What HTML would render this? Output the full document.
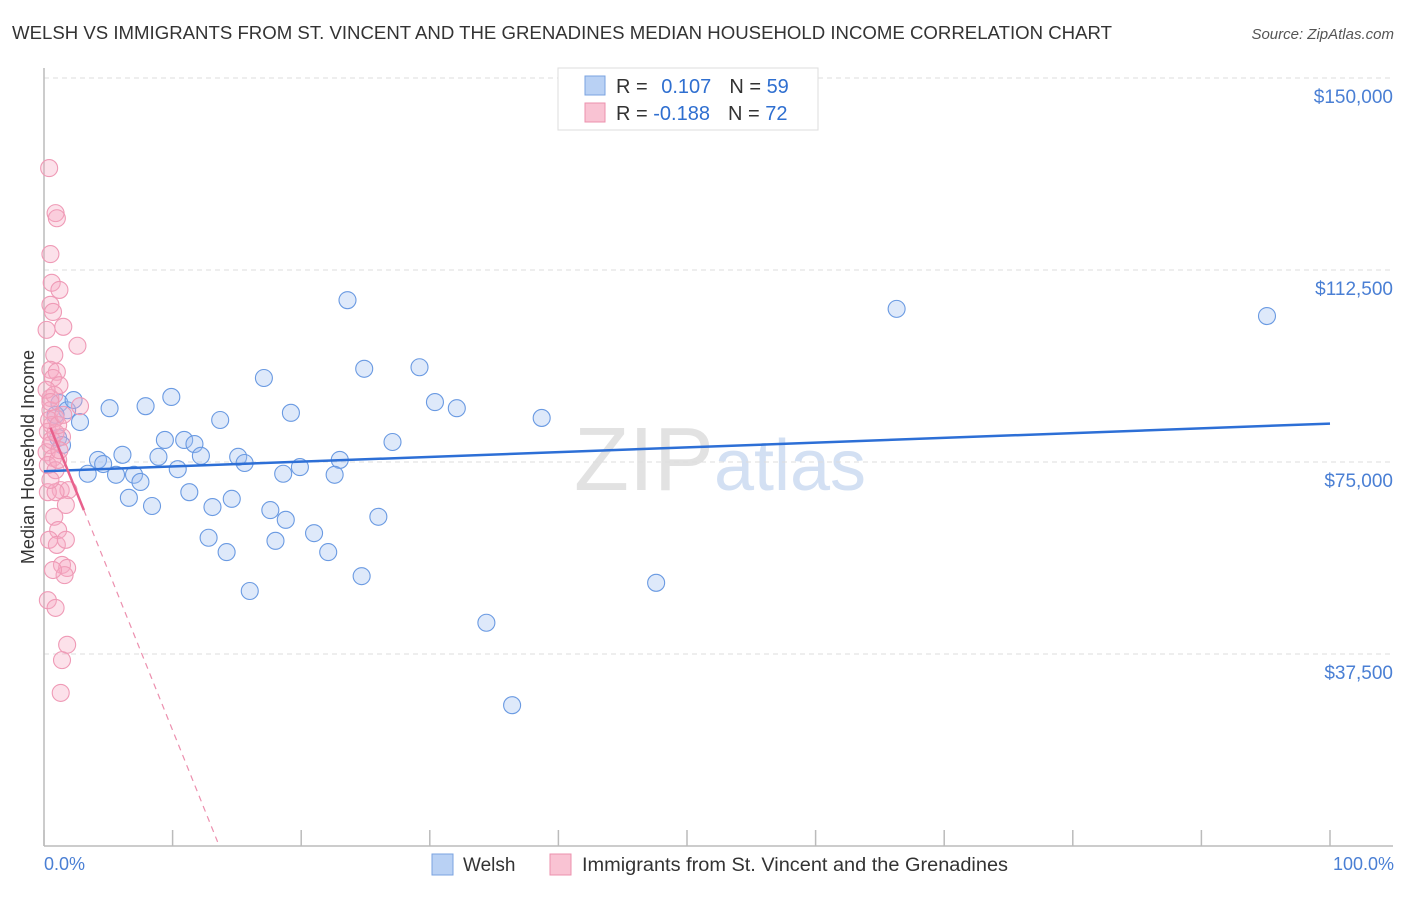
<!DOCTYPE html>
<html><head><meta charset="utf-8"><style>
body{margin:0;background:#fff;font-family:"Liberation Sans",sans-serif;}
svg text{font-family:"Liberation Sans",sans-serif;}
</style></head><body>
<svg id="chart" width="1406" height="892" xmlns="http://www.w3.org/2000/svg">
<text x="12" y="39" font-size="18" fill="#333" textLength="1100" lengthAdjust="spacingAndGlyphs">WELSH VS IMMIGRANTS FROM ST. VINCENT AND THE GRENADINES MEDIAN HOUSEHOLD INCOME CORRELATION CHART</text>
<text x="1394" y="39" font-size="15" fill="#555" text-anchor="end" font-style="italic">Source: ZipAtlas.com</text>
<text x="720" y="490" font-size="90" fill="#e2e2e2" text-anchor="middle" font-family="Liberation Serif">ZIP<tspan fill="#d3e0f3" font-family="Liberation Sans" font-size="72">atlas</tspan></text>
<g id="grid"></g><g id="axes"></g><g id="pts"></g><g id="trend"></g>
<text transform="translate(34,457) rotate(-90)" font-size="18" fill="#333" text-anchor="middle">Median Household Income</text>
<text x="44" y="870" font-size="18" fill="#4a7fd4">0.0%</text>
<text x="1394" y="870" font-size="18" fill="#4a7fd4" text-anchor="end">100.0%</text>
<g>
<rect x="558" y="68" width="260" height="62" fill="#fff" stroke="#ddd"/>
<rect x="585" y="76" width="20" height="19" fill="#b9d1f4" stroke="#7aa3e0"/>
<rect x="585" y="103" width="20" height="19" fill="#f9c3d3" stroke="#ec90ae"/>
<text x="616" y="93" font-size="20" fill="#333">R = <tspan fill="#2f6fd0" dx="8">0.107</tspan><tspan dx="18" fill="#333">N = </tspan><tspan fill="#2f6fd0">59</tspan></text>
<text x="616" y="120" font-size="20" fill="#333">R = <tspan fill="#2f6fd0">-0.188</tspan><tspan dx="18" fill="#333">N = </tspan><tspan fill="#2f6fd0">72</tspan></text>
</g>
<g>
<rect x="432" y="854" width="21" height="21" fill="#b9d1f4" stroke="#7aa3e0"/>
<text x="463" y="871" font-size="19" fill="#333">Welsh</text>
<rect x="550" y="854" width="21" height="21" fill="#f9c3d3" stroke="#ec90ae"/>
<text x="582" y="871" font-size="19" fill="#333" textLength="426" lengthAdjust="spacingAndGlyphs">Immigrants from St. Vincent and the Grenadines</text>
</g>
</svg>
<script>
const yTicks=[37500,75000,112500,150000];
const yTickLabels=["$37,500","$75,000","$112,500","$150,000"];
const welshX=[1.2,1.8,2.3,2.8,1.1,5.1,7.9,9.9,4.2,3.4,4.6,6.1,5.6,7.0,7.5,8.9,9.4,10.4,10.9,11.7,12.2,11.3,6.6,8.4,13.7,15.1,15.6,13.1,14.6,12.8,14.2,16.0,17.1,19.2,18.6,19.9,17.6,18.8,18.0,21.0,22.1,23.6,24.9,23.0,22.6,26.0,24.7,27.1,29.2,30.4,32.1,38.7,34.4,36.4,47.6,66.3,95.1,0.9,1.4];
const welshY=[86.5,85.1,87.1,82.8,79.7,85.5,85.9,87.7,75.4,72.7,74.6,76.4,72.5,72.5,71.1,76.0,79.3,73.6,79.3,78.5,76.2,69.1,68.0,66.4,83.2,76.0,74.8,66.2,67.8,60.2,57.4,49.8,91.4,84.6,72.7,74.0,65.6,63.7,59.6,61.1,57.4,106.6,93.2,75.4,72.5,64.3,52.7,78.9,93.5,86.7,85.5,83.6,43.6,27.5,51.4,104.9,103.5,84.2,78.3];
const immX=[0.4,0.9,1.0,0.5,0.6,1.2,0.5,0.7,0.2,1.5,2.6,0.8,0.5,1.0,0.7,1.2,0.5,0.5,2.8,0.9,0.6,0.3,1.4,0.5,0.2,0.7,0.3,0.9,1.3,1.9,0.3,0.9,1.7,0.8,1.1,0.4,1.0,1.7,1.4,1.8,1.6,0.7,0.3,0.9,1.8,1.4,1.3,0.5,1.1,0.8,0.2,0.6,1.2,0.9,0.4,1.1,1.5,0.5];
const immY=[132.4,123.6,122.6,115.6,110.0,108.6,105.7,104.3,100.8,101.4,97.7,95.9,93.0,92.6,91.4,90.0,87.5,85.1,85.9,83.6,82.2,80.9,79.9,78.3,76.9,75.8,74.4,73.4,69.5,69.5,69.1,69.1,66.6,64.3,61.7,59.8,58.8,59.8,54.9,54.3,52.9,53.9,48.0,46.5,39.3,36.3,29.9,71.5,75.4,88.1,89.1,79.3,77.3,80.7,83.2,82.2,84.2,86.7];
const welshTrendX=[0,100], welshTrendY=[73.2,82.5];
const immTrendX=[0.5,3.1,13.5], immTrendY=[81.7,65.6,0.8];
const NS="http://www.w3.org/2000/svg";
const X=v=>44+v*12.86, Y=v=>846-v*1000/195.3;
function mk(tag,attrs,parent){const e=document.createElementNS(NS,tag);for(const k in attrs)e.setAttribute(k,attrs[k]);document.getElementById(parent).appendChild(e);return e;}
yTicks.forEach((t,i)=>{
 const g=mk('line',{x1:44,x2:1393,y1:Y(t/1000),y2:Y(t/1000),stroke:'#ddd','stroke-dasharray':'5,4'},'grid');
 
 
 const l=mk('text',{x:1393,y:Y(t/1000)+25,'font-size':19,fill:'#4a7fd4','text-anchor':'end'},'grid');
 l.textContent=yTickLabels[i];
 
 
});
const ax=mk('line',{x1:44,x2:44,y1:68,y2:846,stroke:'#bbb','stroke-width':1.5},'axes');


const bx=mk('line',{x1:44,x2:1393,y1:846,y2:846,stroke:'#bbb','stroke-width':1.5},'axes');


for(let i=0;i<=10;i++){const t=mk('line',{x1:X(i*10),x2:X(i*10),y1:830,y2:846,stroke:'#bbb','stroke-width':1.5},'axes');
 
 }
welshX.forEach((v,i)=>{const c=mk('circle',{cx:X(v),cy:Y(welshY[i]),r:8.5,fill:'rgba(160,192,240,0.35)',stroke:'#6a9ae2','stroke-width':1.1},'pts');
 
 });
immX.forEach((v,i)=>{const c=mk('circle',{cx:X(v),cy:Y(immY[i]),r:8.5,fill:'rgba(245,170,195,0.35)',stroke:'#ef9ab6','stroke-width':1.1},'pts');
 
 });
const wl=mk('line',{x1:X(welshTrendX[0]),y1:Y(welshTrendY[0]),x2:X(welshTrendX[1]),y2:Y(welshTrendY[1]),stroke:'#2d6fd6','stroke-width':2.5},'trend');


const il=mk('line',{x1:X(immTrendX[0]),y1:Y(immTrendY[0]),x2:X(immTrendX[1]),y2:Y(immTrendY[1]),stroke:'#e8608c','stroke-width':2.5},'trend');


const id=mk('line',{x1:X(immTrendX[1]),y1:Y(immTrendY[1]),x2:X(immTrendX[2]),y2:Y(immTrendY[2]),stroke:'#ec8fae','stroke-width':1.2,'stroke-dasharray':'6,5'},'trend');


</script>
</body></html>
